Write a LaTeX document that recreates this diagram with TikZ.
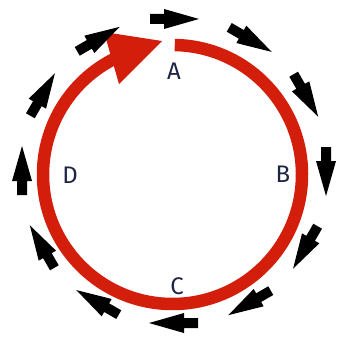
\documentclass[tikz,border=0pt]{standalone}
\usepackage{fontspec}
\setmainfont{Fira Sans}
\definecolor{ringred}{HTML}{D41E0C}
\definecolor{labelnavy}{HTML}{1E2444}
\tikzset{
  blkarrow/.pic={\fill[black] (-24,-5) -- (-10,-5) -- (-10,-10) -- (25,0) -- (-10,10) -- (-10,5) -- (-24,5) -- cycle;},
  lbl/.style={text=labelnavy, font=\fontsize{24}{24}\selectfont, inner sep=0pt}
}
\begin{document}
\begin{tikzpicture}[x=1pt,y=-1pt]
\useasboundingbox (0,0) rectangle (339,339);
\coordinate (rc) at (172.5,174.5);
\coordinate (ac) at (174,171);
% red ring
\draw[ringred, line width=12.5pt] ([shift={(-89:129.5)}]rc) arc[start angle=-89, end angle=243, radius=129.5];
\fill[ringred] (104,32) -- (162,41) -- (119,84) -- cycle;
% black arrows
\foreach \a in {0,30,...,330}
  \pic[rotate={-(\a+90)}] at ([shift={(\a:152)}]ac) {blkarrow};
% labels
\node[lbl] (A) at (174,71) {A};
\node[lbl] (B) at (283,174) {B};
\node[lbl] (C) at (177,286) {C};
\node[lbl] (D) at (70,175) {D};
\end{tikzpicture}
\end{document}
